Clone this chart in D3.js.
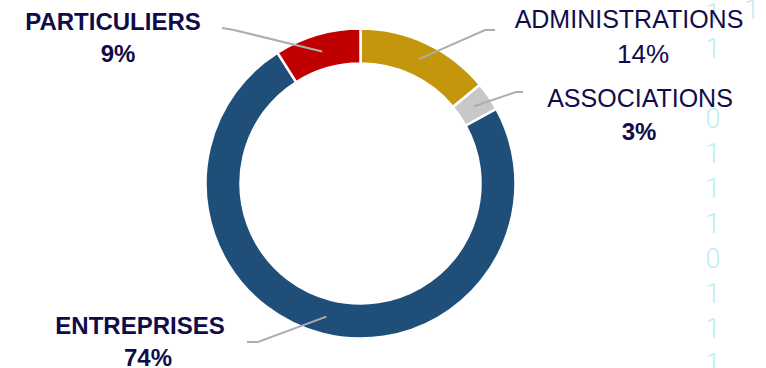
<!DOCTYPE html>
<html>
<head>
<meta charset="utf-8">
<script src="https://cdn.jsdelivr.net/npm/d3@7"></script>
<style>
  html, body { margin: 0; padding: 0; background: #fff; }
  svg { display: block; }
  .name, .pct { font-family: "Liberation Sans", Arial, sans-serif; fill: #100c4a; }
  .digit { font-family: Roboto, sans-serif; font-weight: 300; fill: #bdeef2; }
</style>
</head>
<body>
<div id="chart"></div>
<script>
// data
const categories = ["ADMINISTRATIONS", "ASSOCIATIONS", "ENTREPRISES", "PARTICULIERS"];
const shares = [14, 3, 74, 9];
const boldName = [false, false, true, true];
const boldPct = [false, true, true, true];
const digits = ["1", "1", "", "0", "1", "1", "1", "0", "1", "1", "1"];

const width = 766;
const height = 368;

const colors = ["#c4960c", "#c8c8c8", "#1f4e79", "#c00000"];

// label placement (name baseline / percent baseline / leader start & knee)
const labelLayout = [
  { nx: 629, ny: 28, px: 643, py: 63, start: [495, 30], knee: [485, 30] },
  { nx: 640, ny: 107, px: 639, py: 140, start: [523, 92], knee: [516, 92] },
  { nx: 140, ny: 334, px: 148, py: 366, start: [247, 342], knee: [258, 342] },
  { nx: 113, ny: 30, px: 118, py: 62, start: [222, 28], knee: [234, 30] },
];

const cx = 360.5;
const cy = 183.5;
const outerR = 155;
const innerR = 120;

const svg = d3.select("#chart").append("svg")
  .attr("width", width)
  .attr("height", height);

// faint binary column in the background
const digitY = d3.scaleLinear().domain([0, digits.length - 1]).range([14, 364]);

svg.append("g")
  .selectAll("text")
  .data(digits)
  .join("text")
  .attr("class", "digit")
  .attr("x", 713)
  .attr("y", (d, i) => digitY(i))
  .attr("dy", "0.35em")
  .attr("text-anchor", "middle")
  .style("font-size", "27px")
  .text((d) => d);

svg.append("text")
  .attr("class", "digit")
  .attr("x", 752)
  .attr("y", digitY(0) - 4)
  .attr("dy", "0.35em")
  .attr("text-anchor", "middle")
  .style("font-size", "27px")
  .text("1");

const data = categories.map((c, i) => ({ name: c, value: shares[i], i: i }));

const pie = d3.pie()
  .sort(null)
  .value((d) => d.value);

const arc = d3.arc()
  .innerRadius(innerR)
  .outerRadius(outerR);

const midArc = d3.arc()
  .innerRadius((innerR + outerR) / 2)
  .outerRadius((innerR + outerR) / 2);

const arcs = pie(data);

const g = svg.append("g").attr("transform", `translate(${cx},${cy})`);

g.selectAll("path")
  .data(arcs)
  .join("path")
  .attr("d", arc)
  .attr("fill", (d) => colors[d.data.i])
  .attr("stroke", "#fff")
  .attr("stroke-width", 2.5);

// leader lines
svg.append("g")
  .selectAll("polyline")
  .data(arcs)
  .join("polyline")
  .attr("points", (d) => {
    const l = labelLayout[d.data.i];
    const c = midArc.centroid(d);
    return [l.start, l.knee, [c[0] + cx, c[1] + cy]].map((p) => p.join(",")).join(" ");
  })
  .attr("fill", "none")
  .attr("stroke", "#adadad")
  .attr("stroke-width", 2);

// labels
const labels = svg.append("g")
  .selectAll("g")
  .data(data)
  .join("g");

labels.append("text")
  .attr("class", "name")
  .attr("x", (d) => labelLayout[d.i].nx)
  .attr("y", (d) => labelLayout[d.i].ny)
  .attr("text-anchor", "middle")
  .style("font-size", (d) => (boldName[d.i] ? "24px" : "25px"))
  .style("font-weight", (d) => (boldName[d.i] ? "bold" : "normal"))
  .text((d) => d.name);

labels.append("text")
  .attr("class", "pct")
  .attr("x", (d) => labelLayout[d.i].px)
  .attr("y", (d) => labelLayout[d.i].py)
  .attr("text-anchor", "middle")
  .style("font-size", (d) => (boldPct[d.i] ? "24px" : "26px"))
  .style("font-weight", (d) => (boldPct[d.i] ? "bold" : "normal"))
  .text((d) => d.value + "%");
</script>
</body>
</html>
